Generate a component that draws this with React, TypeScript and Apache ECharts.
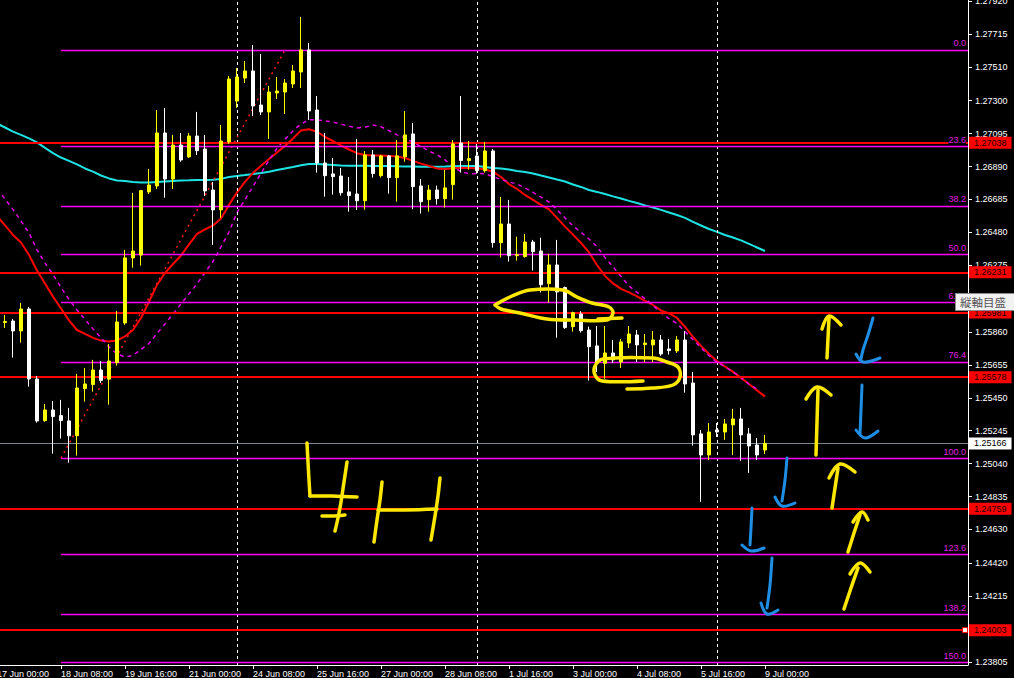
import React, { useEffect, useRef } from "react";
import * as echarts from "echarts";

// 4H bars, bar 0 = 17 Jun 00:00 ... bar 96 = 9 Jul 00:00
const OPEN = [
  1.25904, 1.25919, 1.25928, 1.25866, 1.26003, 1.25567, 1.25308, 1.25374, 1.25339, 1.25306,
  1.25214, 1.25507, 1.25532, 1.25623, 1.25566, 1.25669, 1.25916, 1.26321, 1.26339, 1.26732,
  1.26769, 1.27099, 1.26812, 1.27024, 1.2695, 1.2708, 1.26999, 1.26744, 1.2662, 1.27043,
  1.27298, 1.27441, 1.27485, 1.27273, 1.2723, 1.27348, 1.27354, 1.27404, 1.27479, 1.27616,
  1.27242, 1.26912, 1.26844, 1.26831, 1.26732, 1.26719, 1.26677, 1.26962, 1.26833, 1.26956,
  1.26821, 1.26951, 1.27093, 1.26769, 1.26684, 1.26744, 1.2669, 1.26777, 1.27037, 1.26927,
  1.26956, 1.26864, 1.26987, 1.26416, 1.26532, 1.26335, 1.26329, 1.2642, 1.26364, 1.26161,
  1.26277, 1.26136, 1.25893, 1.25972, 1.25872, 1.25773, 1.25665, 1.25729, 1.25673, 1.25791,
  1.25841, 1.25781, 1.25779, 1.2581, 1.25754, 1.25742, 1.2581, 1.25542, 1.25225, 1.25094,
  1.2525, 1.25237, 1.25281, 1.25318, 1.25225, 1.25156, 1.25125,
];
const CLOSE = [
  1.25935, 1.25925, 1.25866, 1.26003, 1.25567, 1.25306, 1.25374, 1.25333, 1.25308, 1.25213,
  1.25511, 1.25536, 1.25623, 1.25557, 1.25679, 1.25922, 1.26321, 1.26364, 1.2674, 1.26775,
  1.27099, 1.26812, 1.27024, 1.26931, 1.2708, 1.26989, 1.26738, 1.2662, 1.27049, 1.27435,
  1.27448, 1.27485, 1.27267, 1.2723, 1.27354, 1.2736, 1.2741, 1.27485, 1.27616, 1.27236,
  1.26912, 1.26833, 1.26827, 1.26727, 1.26709, 1.26677, 1.26962, 1.26846, 1.26956, 1.26821,
  1.26956, 1.27087, 1.26765, 1.26671, 1.26744, 1.2669, 1.26757, 1.27031, 1.26927, 1.26939,
  1.26864, 1.26987, 1.26416, 1.26532, 1.26335, 1.26341, 1.2642, 1.2636, 1.26154, 1.26277,
  1.26109, 1.25887, 1.2598, 1.25868, 1.25768, 1.25669, 1.25729, 1.25686, 1.25798, 1.25847,
  1.25779, 1.25791, 1.2581, 1.25723, 1.25744, 1.2581, 1.25536, 1.25219, 1.25094, 1.25237,
  1.25237, 1.25287, 1.25318, 1.25219, 1.2515, 1.25094, 1.25166,
];
const HIGH = [
  1.2596, 1.25966, 1.25941, 1.26041, 1.26016, 1.25586, 1.25412, 1.2543, 1.25437, 1.25387,
  1.25599, 1.25636, 1.25686, 1.25679, 1.25785, 1.25991, 1.26371, 1.26725, 1.26744, 1.26875,
  1.27242, 1.27255, 1.27087, 1.27099, 1.27099, 1.2723, 1.27087, 1.26794, 1.27149, 1.27454,
  1.27504, 1.27547, 1.27647, 1.27591, 1.27392, 1.27448, 1.27435, 1.27522, 1.27821, 1.27659,
  1.27329, 1.27099, 1.26943, 1.26881, 1.26825, 1.27062, 1.26987, 1.26993, 1.26962, 1.26962,
  1.27055, 1.27236, 1.27161, 1.26812, 1.26775, 1.26771, 1.26869, 1.27055, 1.27329, 1.27049,
  1.27031, 1.27043, 1.26999, 1.26701, 1.26682, 1.26453, 1.2647, 1.26433, 1.26447, 1.26347,
  1.26433, 1.26142, 1.25986, 1.25989, 1.25893, 1.25897, 1.25897, 1.2581, 1.25816, 1.25897,
  1.25872, 1.25847, 1.25866, 1.25841, 1.25816, 1.25835, 1.25866, 1.25611, 1.2525, 1.25293,
  1.25293, 1.25318, 1.25381, 1.25387, 1.25262, 1.252, 1.25219,
];
const LOW = [
  1.25872, 1.25885, 1.257, 1.25793, 1.25519, 1.25295, 1.253, 1.25102, 1.25196, 1.25046,
  1.2509, 1.25426, 1.25488, 1.25542, 1.25407, 1.2565, 1.25904, 1.2626, 1.26273, 1.26719,
  1.2675, 1.26696, 1.2675, 1.2692, 1.26943, 1.26962, 1.26707, 1.26402, 1.2657, 1.27031,
  1.27255, 1.2741, 1.27205, 1.27211, 1.27062, 1.27311, 1.27217, 1.27379, 1.27379, 1.2718,
  1.26852, 1.26702, 1.26715, 1.26709, 1.26609, 1.2662, 1.26621, 1.26821, 1.26821, 1.26721,
  1.26671, 1.2692, 1.26624, 1.26597, 1.26609, 1.26653, 1.26634, 1.26684, 1.26852, 1.26871,
  1.26846, 1.26852, 1.26385, 1.26323, 1.26298, 1.26304, 1.26323, 1.26242, 1.26105, 1.26042,
  1.25824, 1.25879, 1.25862, 1.25856, 1.25557, 1.25611, 1.25569, 1.25667, 1.25636, 1.2576,
  1.25673, 1.25673, 1.25673, 1.25711, 1.25719, 1.25729, 1.25482, 1.25152, 1.24802, 1.25063,
  1.25206, 1.25188, 1.25094, 1.25057, 1.24982, 1.25063, 1.251,
];

// moving averages, one value per bar
const MA_SLOW = [
  1.27158, 1.27133, 1.27107, 1.27087, 1.27065, 1.2704, 1.27006, 1.26974, 1.26946, 1.26925,
  1.26903, 1.26878, 1.26858, 1.26834, 1.26816, 1.26803, 1.268, 1.26794, 1.26791, 1.26791,
  1.26794, 1.26797, 1.268, 1.26803, 1.26804, 1.26806, 1.26806, 1.26808, 1.26813, 1.26825,
  1.26831, 1.26837, 1.26844, 1.2685, 1.26858, 1.26869, 1.26878, 1.26887, 1.26898, 1.26906,
  1.26906, 1.26903, 1.269, 1.26897, 1.26895, 1.26895, 1.26895, 1.26894, 1.26894, 1.26893,
  1.26891, 1.2689, 1.2689, 1.26889, 1.26889, 1.26889, 1.2689, 1.26892, 1.26893, 1.26894,
  1.26894, 1.26887, 1.26881, 1.26878, 1.26872, 1.26862, 1.26856, 1.26847, 1.26834, 1.26822,
  1.26809, 1.26797, 1.26778, 1.26763, 1.26744, 1.26732, 1.26719, 1.26704, 1.26691, 1.26676,
  1.26663, 1.26648, 1.26635, 1.2662, 1.26604, 1.26588, 1.2657, 1.26545, 1.26523, 1.26501,
  1.26483, 1.26464, 1.26448, 1.2643, 1.26408, 1.26386, 1.26364,
];
const MA_FAST = [
  1.26582, 1.26523, 1.26464, 1.26417, 1.26339, 1.26243, 1.26162, 1.2608, 1.26006, 1.25932,
  1.25872, 1.25848, 1.25823, 1.25806, 1.25801, 1.25807, 1.25832, 1.25872, 1.25947, 1.26047,
  1.26153, 1.26227, 1.26283, 1.26336, 1.26405, 1.2647, 1.26498, 1.26523, 1.26567, 1.26651,
  1.26729, 1.26794, 1.2685, 1.26895, 1.26937, 1.26978, 1.27018, 1.27065, 1.27115, 1.27122,
  1.27107, 1.27074, 1.27049, 1.27021, 1.26996, 1.26973, 1.26962, 1.26959, 1.26958, 1.26956,
  1.26953, 1.26943, 1.26925, 1.26908, 1.26894, 1.26878, 1.26875, 1.2688, 1.26883, 1.26881,
  1.26879, 1.26872, 1.26858, 1.26825, 1.26781, 1.2675, 1.26713, 1.26682, 1.26651, 1.26623,
  1.2657, 1.26516, 1.26466, 1.26414, 1.26355, 1.26277, 1.26209, 1.26162, 1.26128, 1.26106,
  1.26081, 1.26053, 1.26028, 1.25994, 1.25975, 1.25947, 1.25891, 1.25829, 1.25773, 1.25723,
  1.25679, 1.25645, 1.25611, 1.25574, 1.25536, 1.25496, 1.25457,
];
const MA_SIGNAL = [
  1.2675, 1.26688, 1.26623, 1.26551, 1.26476, 1.26371, 1.2629, 1.26218, 1.26137, 1.26062,
  1.25997, 1.25938, 1.25879, 1.25823, 1.25767, 1.25723, 1.25704, 1.25714, 1.25751, 1.25788,
  1.25851, 1.2591, 1.25972, 1.26034, 1.26097, 1.26159, 1.2623, 1.26299, 1.26389, 1.26483,
  1.26603, 1.26685, 1.26766, 1.26848, 1.26929, 1.27004, 1.27059, 1.27113, 1.27155, 1.27181,
  1.27181, 1.27175, 1.27167, 1.27153, 1.27141, 1.2713, 1.27135, 1.27149, 1.27138, 1.27114,
  1.27087, 1.27068, 1.2704, 1.27015, 1.26986, 1.26964, 1.26931, 1.2689, 1.26857, 1.26845,
  1.26847, 1.26844, 1.26828, 1.26809, 1.26794, 1.26781, 1.26757, 1.26729, 1.267, 1.26669,
  1.2662, 1.2657, 1.2652, 1.2648, 1.26439, 1.26391, 1.26324, 1.26265, 1.26206, 1.26146,
  1.26106, 1.26067, 1.26025, 1.25978, 1.25943, 1.25913, 1.25862, 1.25812, 1.25762, 1.25712,
  1.2567, 1.25645, 1.25611, 1.25577, 1.25534, 1.25505, null,
];

const TIME_TICKS = [0, 8, 16, 24, 32, 40, 48, 56, 64, 72, 80, 88, 96];
const TIME_LABELS = [
  "17 Jun 00:00", "18 Jun 08:00", "19 Jun 16:00", "21 Jun 00:00", "24 Jun 08:00",
  "25 Jun 16:00", "27 Jun 00:00", "28 Jun 08:00", "1 Jul 16:00", "3 Jul 00:00",
  "4 Jul 08:00", "5 Jul 16:00", "9 Jul 00:00",
];
const PRICE_TICKS = [
  1.2792, 1.27715, 1.2751, 1.273, 1.27095, 1.2689, 1.26685, 1.2648, 1.26275, 1.2586,
  1.25655, 1.2545, 1.25245, 1.2504, 1.24835, 1.2463, 1.2442, 1.24215, 1.23805,
];

// horizontal levels
const SR_LEVELS = [1.27038, 1.26231, 1.25981, 1.25578, 1.24759, 1.24003];
const LAST_PRICE = 1.25166;
const WEEK_STARTS = [30, 60, 90];
const FIB_LOW = 1.25074;
const FIB_HIGH = 1.27616;
const FIB_FROM_BAR = 8;
const FIB_TO_BAR = 36;
const FIB_RATIOS = [0, 23.6, 38.2, 50, 61.8, 76.4, 100, 123.6, 138.2, 150];

// view window
const X_MIN = -0.625;
const X_MAX = 121.375;
const Y_MIN = 1.23786;
const Y_MAX = 1.27927;

// the chart canvas starts 8px left of the page so bar 0 sits just off the left edge
const CANVAS_SHIFT = 8;

const FONT = '"Liberation Sans", Arial, sans-serif';

// hand-drawn marks (page coordinates)
const YELLOW_STROKES: number[][][] = [
  [[307, 443], [308, 462], [309, 480], [310, 496]],
  [[310, 496], [332, 496], [357, 497]],
  [[347, 462], [344, 482], [341, 502], [338, 518], [335, 531]],
  [[322, 516], [334, 516], [345, 515]],
  [[382, 482], [380, 500], [377, 520], [374, 542]],
  [[440, 478], [438, 496], [435, 516], [431, 540]],
  [[378, 510], [405, 510], [437, 509]],
  [[495, 305], [512, 296], [530, 290], [563, 290], [577, 297], [592, 303], [609, 307], [613, 313], [607, 320], [575, 320], [547, 319], [520, 313], [501, 309], [495, 305]],
  [[598, 319], [622, 318]],
  [[643, 381], [602, 381], [595, 375], [595, 366], [603, 359], [653, 358], [667, 362], [678, 367], [680, 377], [673, 385], [653, 388], [627, 389]],
  [[827, 358], [828, 338], [829, 318]],
  [[822, 329], [829, 316], [841, 325]],
  [[816, 455], [817, 422], [818, 390]],
  [[806, 399], [817, 387], [831, 395]],
  [[832, 508], [835, 488], [838, 468]],
  [[829, 478], [840, 464], [855, 472]],
  [[848, 552], [854, 533], [860, 515]],
  [[853, 522], [862, 512], [868, 520]],
  [[844, 609], [851, 588], [858, 568]],
  [[850, 574], [860, 563], [870, 572]],
];
const BLUE_STROKES: number[][][] = [
  [[873, 318], [868, 335], [863, 350], [861, 359]],
  [[856, 354], [863, 362], [880, 358]],
  [[862, 385], [861, 410], [860, 434]],
  [[856, 430], [865, 438], [878, 431]],
  [[787, 458], [785, 480], [782, 501]],
  [[775, 497], [782, 506], [795, 503]],
  [[752, 508], [751, 528], [750, 545]],
  [[742, 545], [751, 551], [764, 548]],
  [[772, 558], [770, 585], [767, 608]],
  [[761, 603], [767, 614], [778, 610]],
];

const fibPrice = (ratio: number) => FIB_HIGH - (ratio / 100) * (FIB_HIGH - FIB_LOW);

function priceLabel(bg: string, fg: string) {
  return {
    show: true,
    position: "end",
    distance: 1,
    formatter: (p: any) => Number(p.value).toFixed(5),
    backgroundColor: bg,
    color: fg,
    fontSize: 9,
    fontFamily: FONT,
    lineHeight: 10,
    padding: [1, 5, 1, 5],
  };
}

function buildOption() {
  const bars = OPEN.map((o, i) => [i, o, CLOSE[i], LOW[i], HIGH[i]]);
  const toXY = (arr: (number | null)[]) => arr.map((v, i) => [i, v]);

  return {
    animation: false,
    backgroundColor: "#000000",
    grid: {
      left: 0,
      right: 46,
      top: 0,
      bottom: 13,
      containLabel: false,
      outerBoundsMode: "none",
    },
    xAxis: {
      type: "value",
      min: X_MIN,
      max: X_MAX,
      axisLine: { show: true, onZero: false, lineStyle: { color: "#ffffff", width: 1 } },
      axisTick: { show: true, customValues: TIME_TICKS, length: 4, lineStyle: { color: "#ffffff" } },
      axisLabel: {
        show: true,
        customValues: TIME_TICKS,
        formatter: (v: number) => {
          const k = TIME_TICKS.indexOf(Math.round(v));
          return k >= 0 ? TIME_LABELS[k] : "";
        },
        color: "#ffffff",
        fontSize: 9,
        fontFamily: FONT,
        align: "left",
        margin: 4,
      },
      splitLine: { show: false },
    },
    yAxis: {
      type: "value",
      position: "right",
      min: Y_MIN,
      max: Y_MAX,
      axisLine: { show: true, onZero: false, lineStyle: { color: "#ffffff", width: 1 } },
      axisTick: { show: true, customValues: PRICE_TICKS, length: 4, lineStyle: { color: "#ffffff" } },
      axisLabel: {
        show: true,
        customValues: PRICE_TICKS,
        formatter: (v: number) => v.toFixed(5),
        color: "#ffffff",
        fontSize: 9,
        fontFamily: FONT,
        margin: 7,
      },
      splitLine: { show: false },
    },
    series: [
      {
        name: "week-separators",
        type: "line",
        data: [],
        z: 1,
        silent: true,
        clip: false,
        markLine: {
          silent: true,
          symbol: "none",
          animation: false,
          precision: 5,
          label: { show: false },
          lineStyle: { color: "#ffffff", type: [3, 3], width: 1 },
          data: WEEK_STARTS.map((x) => ({ xAxis: x })),
        },
      },
      {
        name: "levels",
        type: "line",
        data: [],
        z: 2,
        silent: true,
        clip: false,
        markLine: {
          silent: true,
          symbol: "none",
          animation: false,
          precision: 5,
          lineStyle: { color: "#ff0000", type: "solid", width: 2 },
          label: priceLabel("#ff0000", "#1a0000"),
          data: SR_LEVELS.map((v) => ({ yAxis: v })),
        },
      },
      {
        name: "last",
        type: "line",
        data: [],
        z: 2,
        silent: true,
        clip: false,
        markLine: {
          silent: true,
          symbol: "none",
          animation: false,
          precision: 5,
          lineStyle: { color: "#7a8894", type: "solid", width: 1 },
          label: priceLabel("#ffffff", "#000000"),
          data: [{ yAxis: LAST_PRICE }],
        },
      },
      {
        name: "fibo-trend",
        type: "line",
        data: [],
        z: 2,
        silent: true,
        clip: false,
        markLine: {
          silent: true,
          symbol: "none",
          animation: false,
          precision: 5,
          label: { show: false },
          lineStyle: { color: "#ff1a1a", type: [2, 4], width: 1.5 },
          data: [[{ coord: [FIB_FROM_BAR, FIB_LOW] }, { coord: [FIB_TO_BAR, FIB_HIGH] }]],
        },
      },
      {
        name: "fibo",
        type: "line",
        data: [],
        z: 3,
        silent: true,
        clip: false,
        markLine: {
          silent: true,
          symbol: "none",
          animation: false,
          precision: 5,
          lineStyle: { color: "#ff00ff", type: "solid", width: 1.3 },
          data: FIB_RATIOS.map((r) => {
            const lab = {
              show: true,
              position: "insideEndTop",
              distance: [2, 2],
              formatter: r.toFixed(1),
              color: "#e01ee0",
              fontSize: 9,
              fontFamily: FONT,
              backgroundColor: "#000000",
              padding: 0,
            };
            return [
              { name: r.toFixed(1), coord: [FIB_FROM_BAR, fibPrice(r)], label: lab },
              { coord: [X_MAX, fibPrice(r)], label: lab },
            ];
          }),
        },
      },
      {
        name: "ma-slow",
        type: "line",
        data: toXY(MA_SLOW),
        z: 3,
        silent: true,
        showSymbol: false,
        symbol: "none",
        lineStyle: { color: "#1ee3e3", width: 2 },
      },
      {
        name: "ma-fast",
        type: "line",
        data: toXY(MA_FAST),
        z: 3,
        silent: true,
        showSymbol: false,
        symbol: "none",
        lineStyle: { color: "#ff0000", width: 2 },
      },
      {
        name: "ma-signal",
        type: "line",
        data: toXY(MA_SIGNAL),
        z: 3,
        silent: true,
        showSymbol: false,
        symbol: "none",
        connectNulls: false,
        lineStyle: { color: "#e600e6", width: 1.5, type: [4, 4] },
      },
      {
        name: "price",
        type: "candlestick",
        data: bars,
        encode: { x: 0, y: [1, 2, 3, 4] },
        z: 5,
        silent: true,
        barWidth: 4,
        itemStyle: {
          color: "#ffff00",
          color0: "#ffffff",
          borderColor: "#ffff00",
          borderColor0: "#ffffff",
          borderWidth: 1,
        },
      },
    ],
  };
}

function buildGraphics(yHandle: number) {
  const shift = (pts: number[][]) => pts.map(([x, y]) => [x + CANVAS_SHIFT, y]);
  const strokes: any[] = [];
  YELLOW_STROKES.forEach((pts) =>
    strokes.push({
      type: "polyline",
      silent: true,
      z: 50,
      shape: { points: shift(pts), smooth: 0.35 },
      style: { stroke: "#ffe800", lineWidth: 3.5, fill: null, lineCap: "round", lineJoin: "round" },
    })
  );
  BLUE_STROKES.forEach((pts) =>
    strokes.push({
      type: "polyline",
      silent: true,
      z: 50,
      shape: { points: shift(pts), smooth: 0.35 },
      style: { stroke: "#1f8fe6", lineWidth: 3, fill: null, lineCap: "round", lineJoin: "round" },
    })
  );
  return [
    ...strokes,
    {
      type: "rect",
      silent: true,
      z: 60,
      shape: { x: 962.5 + CANVAS_SHIFT, y: yHandle - 2.5, width: 5, height: 5 },
      style: { fill: "#ffffff", stroke: "#ff0000", lineWidth: 1 },
    },
    {
      type: "rect",
      silent: true,
      z: 70,
      shape: { x: 955.5 + CANVAS_SHIFT, y: 293.5, width: 60, height: 17 },
      style: { fill: "#f2f2f2", stroke: "#8a8a8a", lineWidth: 1 },
    },
    {
      type: "text",
      silent: true,
      z: 71,
      x: 960 + CANVAS_SHIFT,
      y: 302,
      style: {
        text: "縦軸目盛",
        fill: "#555555",
        font: '11.5px "Noto Sans CJK JP"',
        verticalAlign: "middle",
        align: "left",
      },
    },
  ];
}

export default function App() {
  const ref = useRef<HTMLDivElement>(null);
  useEffect(() => {
    if (!ref.current) return;
    const chart = echarts.init(ref.current, null, { renderer: "svg" });
    chart.setOption(buildOption() as any);
    const yHandle = chart.convertToPixel({ yAxisIndex: 0 }, 1.24003) as unknown as number;
    chart.setOption({ graphic: buildGraphics(yHandle) } as any);
    return () => chart.dispose();
  }, []);
  return (
    <div
      ref={ref}
      style={{
        position: "fixed",
        left: -CANVAS_SHIFT,
        top: 0,
        width: 1014 + CANVAS_SHIFT,
        height: 678,
        background: "#000000",
      }}
    />
  );
}
